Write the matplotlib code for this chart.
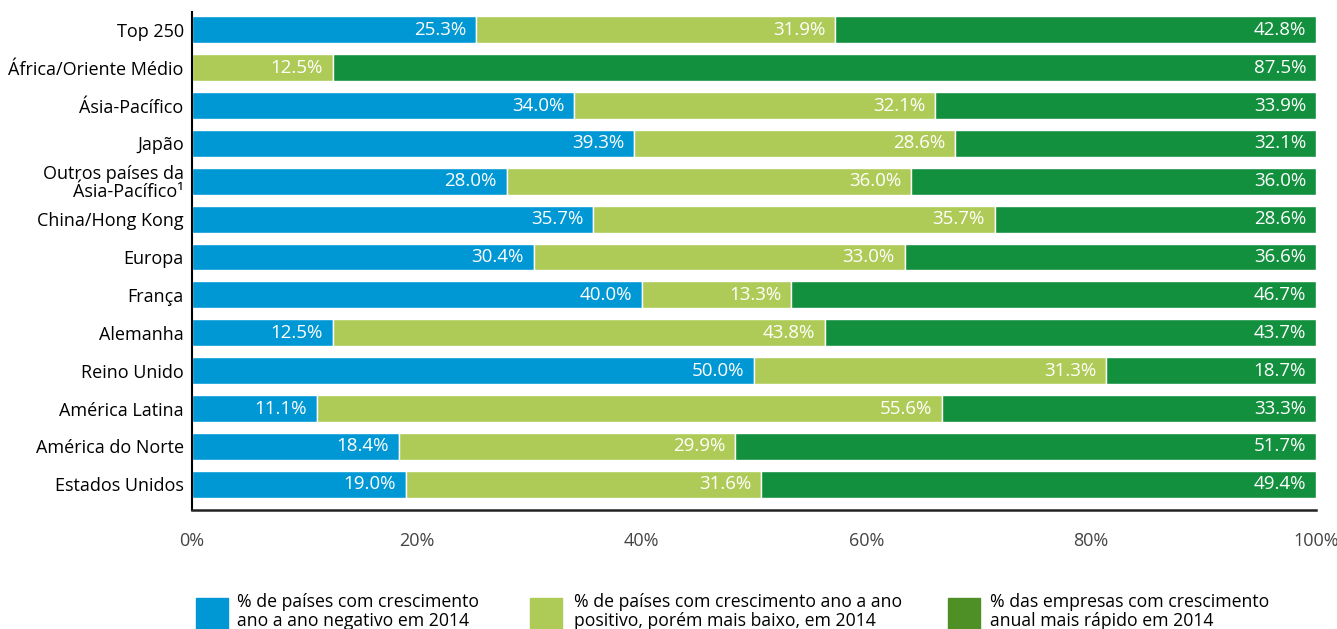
import matplotlib.pyplot as plt
from matplotlib.patches import Rectangle
import numpy as np

plt.rcParams['font.family'] = ['Open Sans', 'DejaVu Sans']

categories = ['Top 250', 'África/Oriente Médio', 'Ásia-Pacífico', 'Japão',
              'Outros países da\nÁsia-Pacífico¹', 'China/Hong Kong', 'Europa',
              'França', 'Alemanha', 'Reino Unido', 'América Latina',
              'América do Norte', 'Estados Unidos']
negativo = [25.3, 0.0, 34.0, 39.3, 28.0, 35.7, 30.4, 40.0, 12.5, 50.0, 11.1, 18.4, 19.0]
positivo = [31.9, 12.5, 32.1, 28.6, 36.0, 35.7, 33.0, 13.3, 43.8, 31.3, 55.6, 29.9, 31.6]
rapido = [42.8, 87.5, 33.9, 32.1, 36.0, 28.6, 36.6, 46.7, 43.7, 18.7, 33.3, 51.7, 49.4]
legend_labels = ['% de países com crescimento\nano a ano negativo em 2014',
                 '% de países com crescimento ano a ano\npositivo, porém mais baixo, em 2014',
                 '% das empresas com crescimento\nanual mais rápido em 2014']

colors = ['#0098d4', '#afcb57', '#12903e']
legend_colors = ['#0098d4', '#afcb57', '#4e8f26']

fig = plt.figure(figsize=(13.37, 6.29), dpi=100)
ax = fig.add_axes([192 / 1337, 1 - 510 / 629, 1124 / 1337, 498 / 629])

y = np.arange(len(categories))
left = np.zeros(len(categories))
for vals, c in zip([negativo, positivo, rapido], colors):
    vals = np.array(vals)
    ax.barh(y, vals, left=left, height=0.71, color=c, edgecolor='white', linewidth=1)
    for yi, v, l in zip(y, vals, left):
        if v > 0:
            ax.annotate(f'{v:.1f}%', (l + v, yi), xytext=(-7, 0), textcoords='offset points',
                        ha='right', va='center', color='white', fontsize=13.5)
    left = left + vals

ax.set_xlim(0, 100)
ax.set_ylim(len(categories) - 1 + 0.68, -0.47)
ax.set_yticks(y)
ax.set_yticklabels(categories, fontsize=13, color='black', linespacing=0.95)
ax.set_xticks([0, 20, 40, 60, 80, 100])
ax.set_xticklabels(['0%', '20%', '40%', '60%', '80%', '100%'], fontsize=13, color='#444444')
ax.tick_params(axis='both', length=0)
ax.tick_params(axis='y', pad=6)
ax.tick_params(axis='x', pad=16)
for s in ['top', 'right']:
    ax.spines[s].set_visible(False)
ax.spines['left'].set_linewidth(1.5)
ax.spines['bottom'].set_linewidth(1.8)
ax.spines['bottom'].set_color('#222222')

# legend at bottom (partly cut off in the original)
box_x = [196, 530, 948]
text_x = [237, 574, 990]
for bx, tx, c, lab in zip(box_x, text_x, legend_colors, legend_labels):
    fig.patches.append(Rectangle((bx / 1337, 1 - 640 / 629), 32 / 1337, 42 / 629,
                                 transform=fig.transFigure, color=c))
    fig.text(tx / 1337, 1 - 593 / 629, lab, fontsize=12.7, color='black',
             va='top', ha='left', linespacing=1.05)

plt.savefig('out.png', dpi=100)
